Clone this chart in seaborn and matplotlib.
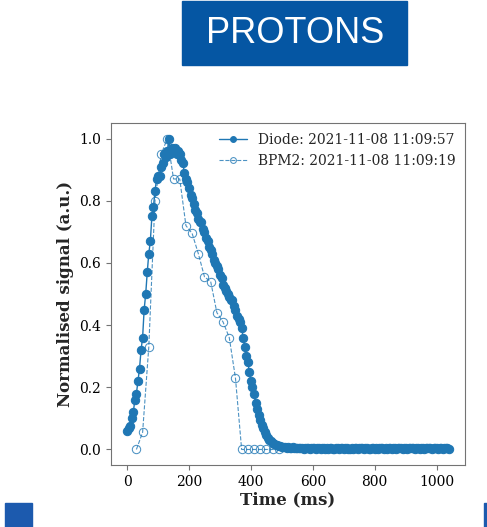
import numpy as np
import pandas as pd
import matplotlib.pyplot as plt
import seaborn as sns
from matplotlib.patches import Rectangle

# Diode signal, sampled every 5 ms
diode_t = np.arange(0, 1045, 5)
diode_rise = [0.06, 0.07, 0.075, 0.10, 0.12, 0.16, 0.18, 0.22, 0.26, 0.32,
              0.36, 0.45, 0.50, 0.57, 0.63, 0.67, 0.75, 0.78, 0.83, 0.87,
              0.88, 0.88, 0.91, 0.92, 0.95, 0.94, 0.96, 1.00, 0.95, 0.97,
              0.96, 0.97, 0.95, 0.96, 0.95, 0.93, 0.92, 0.89, 0.87, 0.86]
diode_fall = [0.84, 0.82, 0.81, 0.79, 0.77, 0.76, 0.74, 0.73, 0.73, 0.71,
              0.70, 0.68, 0.67, 0.65, 0.64, 0.63, 0.61, 0.60, 0.59, 0.58,
              0.56, 0.55, 0.53, 0.52, 0.51, 0.50, 0.49, 0.48, 0.48, 0.46,
              0.45, 0.43, 0.42, 0.41, 0.39, 0.36, 0.33, 0.30, 0.28, 0.25,
              0.22, 0.20, 0.18, 0.15, 0.13, 0.11, 0.095, 0.08, 0.068, 0.055,
              0.046, 0.038, 0.032, 0.027, 0.022, 0.019, 0.016, 0.013, 0.012, 0.010,
              0.009]
diode_tail = [0.008, 0.007, 0.006, 0.008, 0.005, 0.006, 0.007, 0.005, 0.004, 0.006,
              0.005, 0.004, 0.006, 0.003, 0.005, 0.004, 0.005, 0.003, 0.004, 0.006,
              0.004, 0.003, 0.005, 0.004, 0.002, 0.004, 0.005, 0.003, 0.004, 0.003,
              0.005, 0.004, 0.002, 0.003, 0.005, 0.004, 0.003, 0.004, 0.006, 0.003,
              0.004, 0.005, 0.003, 0.002, 0.004, 0.003, 0.005, 0.004, 0.003, 0.004,
              0.006, 0.004, 0.003, 0.005, 0.004, 0.002, 0.003, 0.004, 0.005, 0.003,
              0.004, 0.003, 0.005, 0.006, 0.004, 0.003, 0.004, 0.002, 0.004, 0.005,
              0.003, 0.004, 0.005, 0.003, 0.004, 0.006, 0.004, 0.003, 0.005, 0.004,
              0.003, 0.004, 0.005, 0.006, 0.004, 0.003, 0.005, 0.004, 0.003, 0.004,
              0.005, 0.003, 0.004, 0.006, 0.005, 0.004, 0.003, 0.004, 0.005, 0.004,
              0.003, 0.005, 0.004, 0.003, 0.004, 0.005, 0.004, 0.003]
diode_v = diode_rise + diode_fall + diode_tail

# BPM2 signal, sampled every 20 ms
bpm_t = [30, 50, 70, 90, 110, 130, 150, 170, 190, 210, 230, 250, 270,
         290, 310, 330, 350, 370, 390, 410, 430, 450, 470, 490]
bpm_v = [0.0, 0.055, 0.33, 0.80, 0.95, 1.0, 0.87, 0.87, 0.72, 0.695, 0.63,
         0.555, 0.54, 0.44, 0.41, 0.36, 0.23, 0.0, 0.0, 0.0, 0.0, 0.0, 0.0, 0.0]

diode_label = "Diode: 2021-11-08 11:09:57"
bpm_label = "BPM2: 2021-11-08 11:09:19"

df_d = pd.DataFrame({"t": diode_t[:len(diode_v)], "v": diode_v})
df_b = pd.DataFrame({"t": bpm_t, "v": bpm_v})

sns.set_style("ticks", {"axes.edgecolor": "0.45"})
plt.rcParams["font.family"] = ["DejaVu Serif"]

fig = plt.figure(figsize=(4.87, 5.27), dpi=100)
ax = fig.add_axes([0.228, 0.1176, 0.727, 0.649])

blue = "#1f77b4"
sns.lineplot(data=df_d, x="t", y="v", ax=ax, color=blue, marker="o",
             markersize=6, markeredgecolor=blue, linewidth=1, label=diode_label)
sns.lineplot(data=df_b, x="t", y="v", ax=ax, color=blue, marker="o",
             markersize=6, markerfacecolor="none", markeredgecolor=blue,
             linestyle="--", linewidth=0.8, alpha=0.8, label=bpm_label)

ax.set_xlabel("Time (ms)", fontsize=12, fontweight="bold", labelpad=2)
ax.set_ylabel("Normalised signal (a.u.)", fontsize=12, fontweight="bold")
ax.set_xticks([0, 200, 400, 600, 800, 1000])
ax.set_yticks([0.0, 0.2, 0.4, 0.6, 0.8, 1.0])
ax.tick_params(labelsize=10, colors="0.45", labelcolor="black")
ax.legend(loc="upper right", frameon=False, fontsize=10, markerscale=0.7,
          handlelength=2, borderaxespad=0.3)

# header box and decorations
hdr = "#0556a3"
fig.patches.append(Rectangle((0.3737, 0.8767), 0.462, 0.122,
                             transform=fig.transFigure, color=hdr, zorder=0))
fig.text(0.605, 0.937, "PROTONS", color="white", fontsize=26,
         family="Liberation Sans", ha="center", va="center")
fig.patches.append(Rectangle((0.0103, 0.0), 0.0554, 0.0455,
                             transform=fig.transFigure, color="#1c5aae"))
fig.patches.append(Rectangle((0.9938, 0.0), 0.0062, 0.0455,
                             transform=fig.transFigure, color="#1c5aae"))

fig.savefig("out.png", dpi=100)
